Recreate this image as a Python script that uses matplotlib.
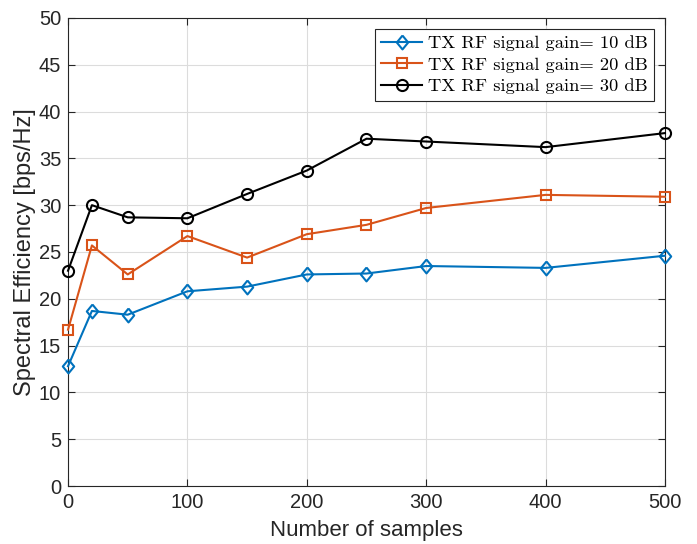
import matplotlib.pyplot as plt

samples = [0, 20, 50, 100, 150, 200, 250, 300, 400, 500]
se_10db = [12.8, 18.7, 18.3, 20.8, 21.3, 22.6, 22.7, 23.5, 23.3, 24.6]
se_20db = [16.7, 25.7, 22.6, 26.7, 24.4, 26.9, 27.9, 29.7, 31.1, 30.9]
se_30db = [23.0, 30.0, 28.7, 28.6, 31.2, 33.7, 37.1, 36.8, 36.2, 37.7]
labels = ['TX RF signal gain= 10 dB', 'TX RF signal gain= 20 dB', 'TX RF signal gain= 30 dB']

plt.rcParams['font.family'] = ['Liberation Sans', 'DejaVu Sans']

fig = plt.figure(figsize=(6.97, 5.44), dpi=100)
ax = fig.add_axes([0.0976, 0.1066, 0.8564, 0.8604])

# matlab-like diamond (a bit narrower than tall)
diamond = [(0, 1), (0.82, 0), (0, -1), (-0.82, 0), (0, 1)]

ax.plot(samples, se_10db, '-', marker=diamond, color='#0072BD', lw=1.5, ms=10, mfc='none', mew=1.5,
        label=labels[0], clip_on=False, zorder=3)
ax.plot(samples, se_20db, '-s', color='#D95319', lw=1.5, ms=6.5, mfc='none', mew=1.5,
        label=labels[1], clip_on=False, zorder=3)
ax.plot(samples, se_30db, '-o', color='black', lw=1.5, ms=8, mfc='none', mew=1.5,
        label=labels[2], clip_on=False, zorder=3)

ax.set_xlim(0, 500)
ax.set_ylim(0, 50)
ax.set_xticks(range(0, 501, 100))
ax.set_yticks(range(0, 51, 5))
ax.grid(True, color='#dcdcdc', lw=0.8)
ax.set_axisbelow(True)
ax.tick_params(direction='in', labelsize=14.5, colors='#262626', top=True, right=True, length=5, pad=5)
for s in ax.spines.values():
    s.set_color('#262626')
    s.set_linewidth(0.8)

ax.set_xlabel('Number of samples', fontsize=16, color='#262626', labelpad=6)
ax.set_ylabel('Spectral Efficiency [bps/Hz]', fontsize=17, color='#262626', labelpad=2)

leg = ax.legend(loc='upper right', prop={'family': 'cmr10', 'size': 13.3}, fancybox=False,
                edgecolor='#262626', framealpha=1, borderaxespad=0.6, handlelength=2.2,
                borderpad=0.35, labelspacing=0.3, handletextpad=0.3)
leg.get_frame().set_linewidth(0.8)

fig.savefig('out.png', dpi=100)
